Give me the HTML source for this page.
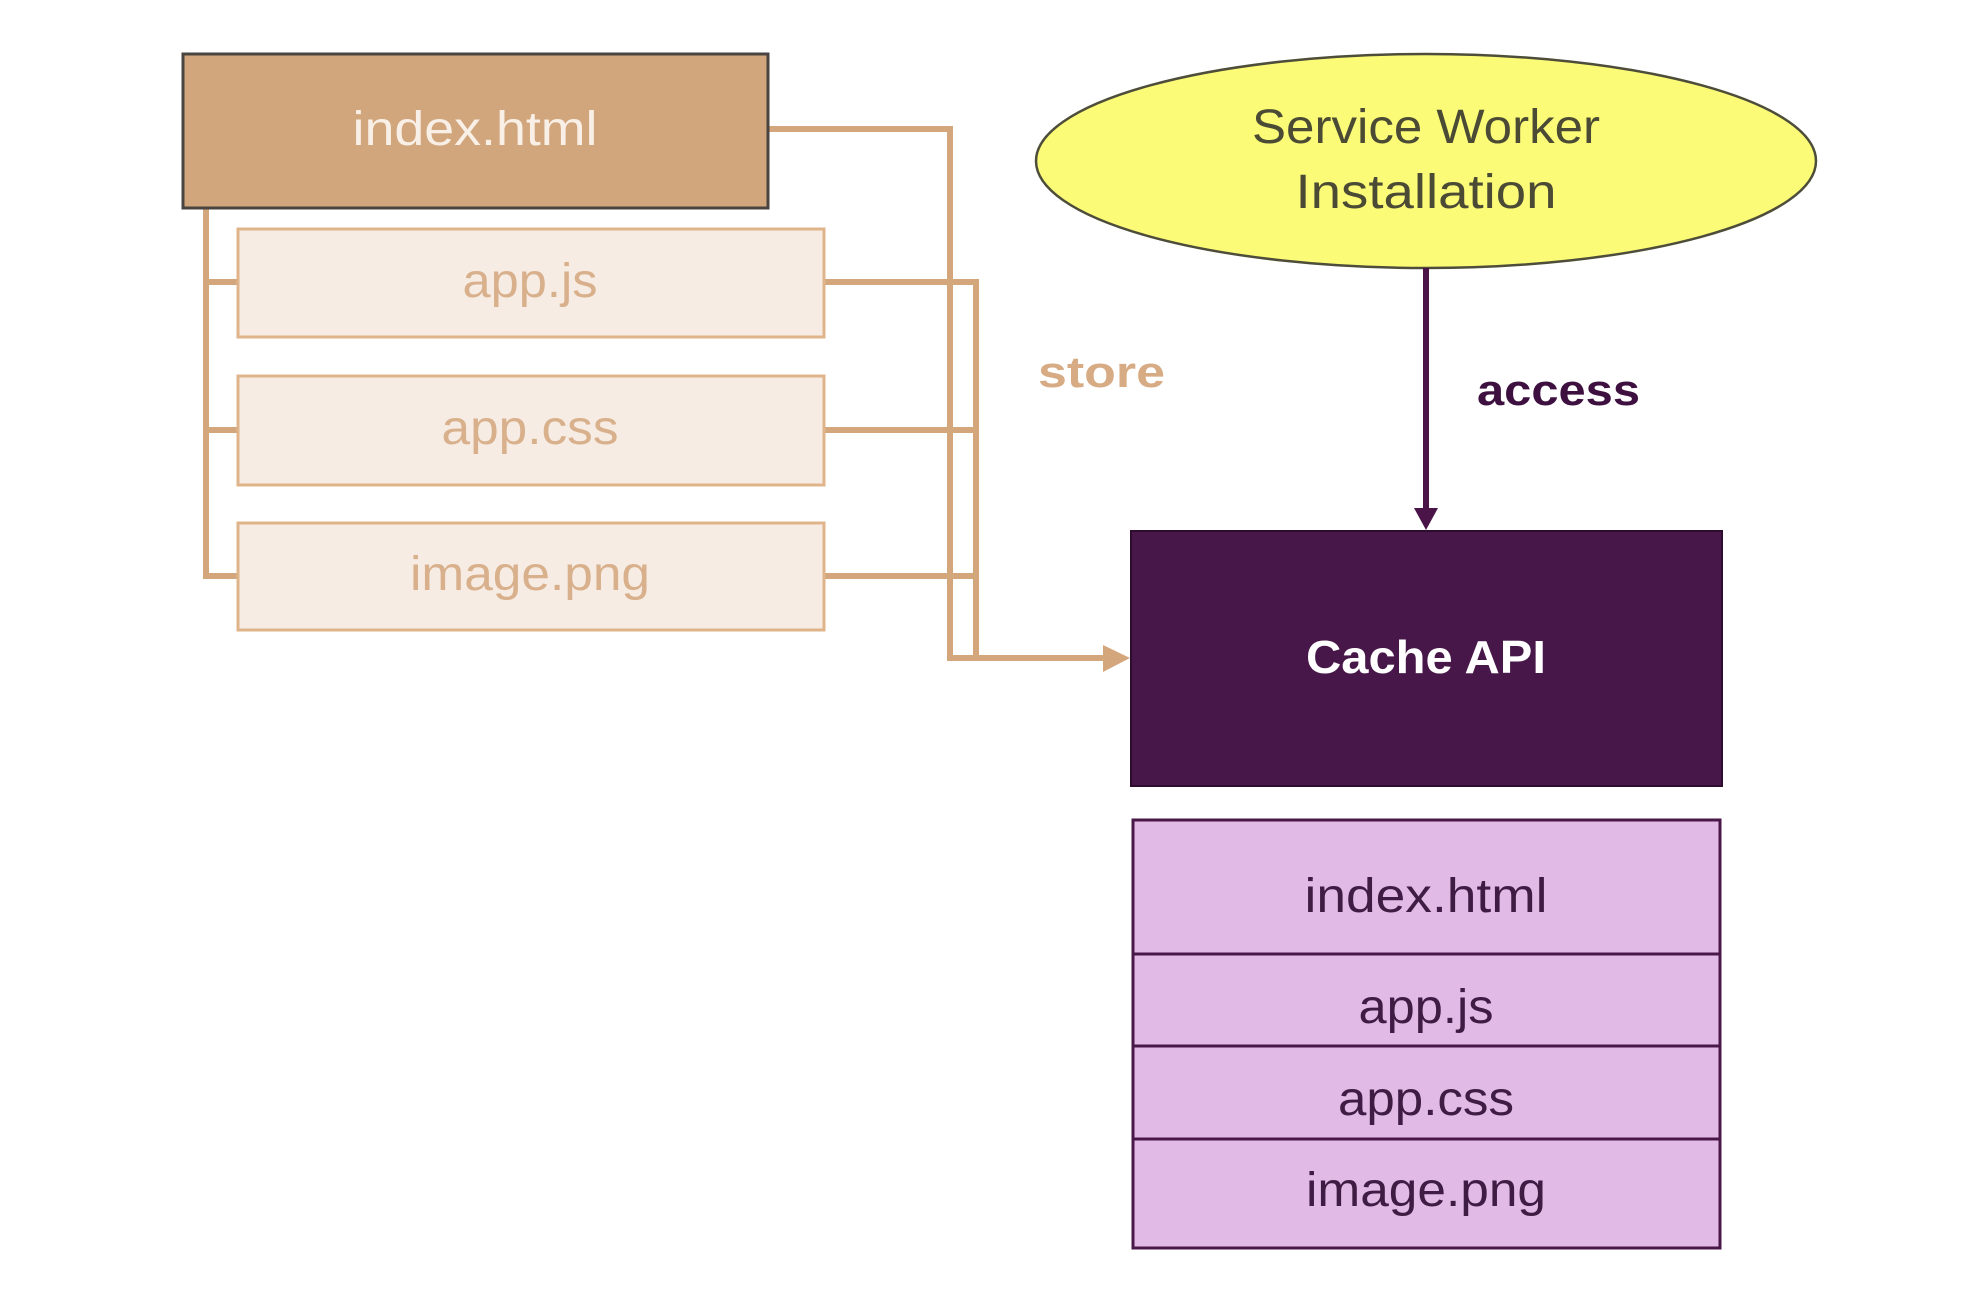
<!DOCTYPE html>
<html><head><meta charset="utf-8"><style>
html,body{margin:0;padding:0;background:#fff;width:1984px;height:1302px;overflow:hidden}
svg{display:block}
text{font-family:"Liberation Sans Narrow","Liberation Sans",sans-serif}
</style></head><body>
<svg width="1984" height="1302" viewBox="0 0 1984 1302" xmlns="http://www.w3.org/2000/svg">
<g fill="none" stroke="#d4a67c" stroke-width="6">
  <polyline points="206,208 206,576 238,576"/>
  <line x1="206" y1="282" x2="238" y2="282"/>
  <line x1="206" y1="430" x2="238" y2="430"/>
  <polyline points="768,129 950,129 950,658 1105,658"/>
  <polyline points="824,282 976,282 976,655"/>
  <line x1="824" y1="430" x2="976" y2="430"/>
  <line x1="824" y1="576" x2="976" y2="576"/>
</g>
<polygon points="1103,645 1130,658 1103,672" fill="#d4a67c"/>
<rect x="183" y="54" width="585" height="154" fill="#d2a67d" stroke="#4a4440" stroke-width="3"/>
<text x="475" y="145" font-size="48" fill="#f8efe6" text-anchor="middle" textLength="245" lengthAdjust="spacingAndGlyphs">index.html</text>
<g fill="#f6ece3" stroke="#e0b48a" stroke-width="3">
  <rect x="238" y="229" width="586" height="108"/>
  <rect x="238" y="376" width="586" height="109"/>
  <rect x="238" y="523" width="586" height="107"/>
</g>
<g font-size="48" fill="#d9b08c" text-anchor="middle">
  <text x="530" y="297" textLength="135" lengthAdjust="spacingAndGlyphs">app.js</text>
  <text x="530" y="444" textLength="177" lengthAdjust="spacingAndGlyphs">app.css</text>
  <text x="530" y="590" textLength="240" lengthAdjust="spacingAndGlyphs">image.png</text>
</g>
<text x="1038" y="387" font-size="44" font-weight="bold" fill="#d7ab84" textLength="127" lengthAdjust="spacingAndGlyphs">store</text>
<ellipse cx="1426" cy="161" rx="390" ry="107" fill="#fbfb78" stroke="#4d4d3a" stroke-width="2.5"/>
<g font-size="48" fill="#4a4a35" text-anchor="middle">
  <text x="1426" y="143" textLength="348" lengthAdjust="spacingAndGlyphs">Service Worker</text>
  <text x="1426" y="208" textLength="261" lengthAdjust="spacingAndGlyphs">Installation</text>
</g>
<line x1="1426" y1="268" x2="1426" y2="512" stroke="#4a1448" stroke-width="6"/>
<polygon points="1414,508 1438,508 1426,530" fill="#4a1448"/>
<text x="1477" y="405" font-size="44" font-weight="bold" fill="#3d1040" textLength="163" lengthAdjust="spacingAndGlyphs">access</text>
<rect x="1131" y="531" width="591" height="255" fill="#481749" stroke="#2d0c2d" stroke-width="2"/>
<text x="1426" y="673" font-size="46" font-weight="bold" fill="#ffffff" text-anchor="middle" textLength="240" lengthAdjust="spacingAndGlyphs">Cache API</text>
<g fill="#e1bbe6" stroke="#4a1749" stroke-width="3">
  <rect x="1133" y="820" width="587" height="134"/>
  <rect x="1133" y="954" width="587" height="92"/>
  <rect x="1133" y="1046" width="587" height="93"/>
  <rect x="1133" y="1139" width="587" height="109"/>
</g>
<g font-size="48" fill="#3f1c44" text-anchor="middle">
  <text x="1426" y="912" textLength="243" lengthAdjust="spacingAndGlyphs">index.html</text>
  <text x="1426" y="1023" textLength="135" lengthAdjust="spacingAndGlyphs">app.js</text>
  <text x="1426" y="1115" textLength="176" lengthAdjust="spacingAndGlyphs">app.css</text>
  <text x="1426" y="1206" textLength="240" lengthAdjust="spacingAndGlyphs">image.png</text>
</g>
</svg>
</body></html>
